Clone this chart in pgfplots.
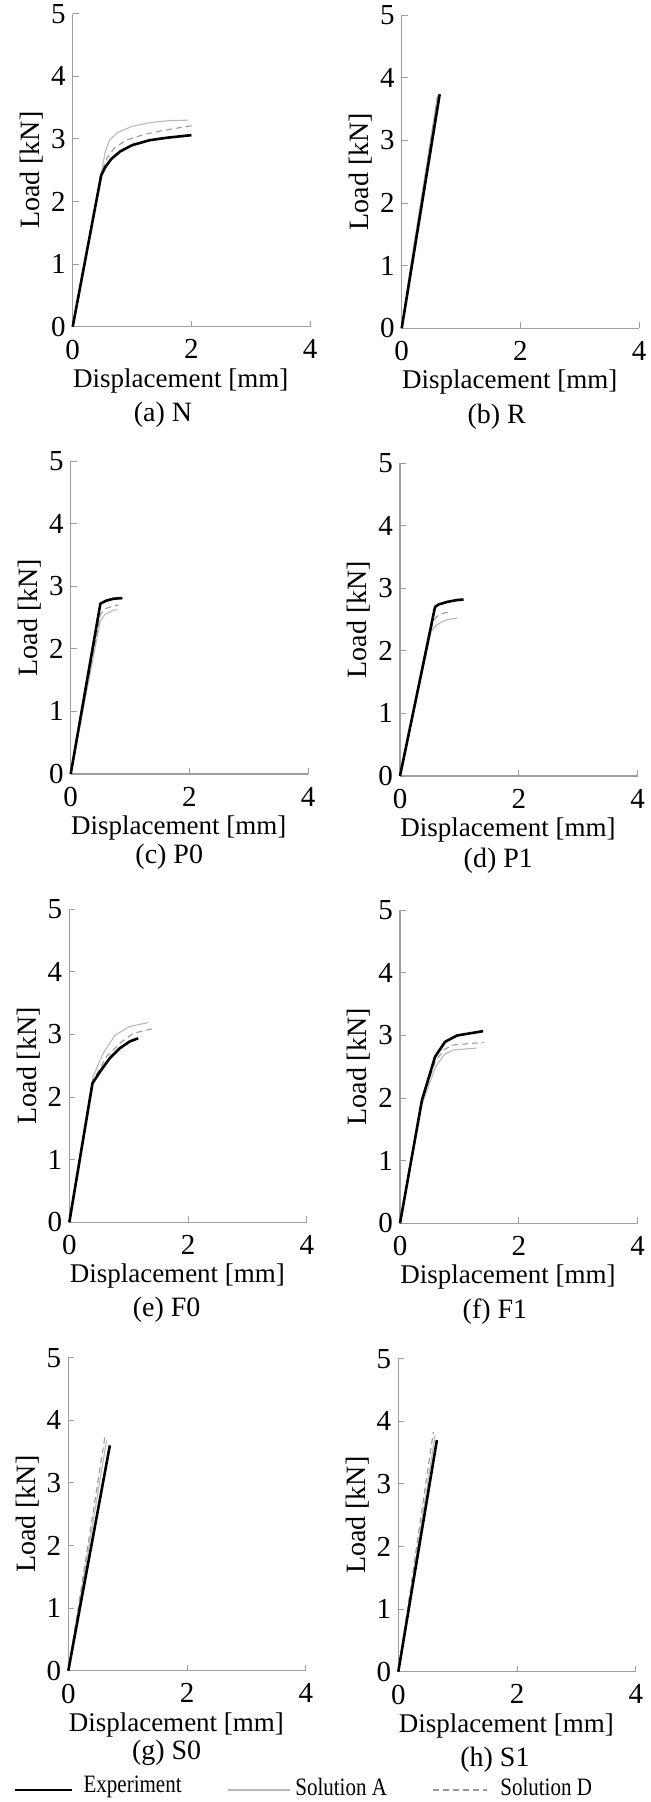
\documentclass[border=0pt]{standalone}
\usepackage{pgfplots}
\pgfplotsset{compat=1.18}
\usepackage{fontspec}
\setmainfont{Liberation Serif}
\newfontfamily\tnr{Liberation Serif}

\pgfplotsset{
  panel/.style={
    anchor=south west,
    scale only axis,
    width=118.75pt, height=156.5pt,
    xmin=0, xmax=4, ymin=0, ymax=5,
    xtick={0,2,4}, ytick={0,1,2,3,4,5},
    axis lines=left,
    axis line style={gray!75, line width=0.6pt, -},
    tick style={gray!75, line width=0.5pt},
    tick align=inside,
    major tick length=3pt,
    /pgf/number format/assume math mode=true,
    ticklabel style={font=\tnr\fontsize{14.5}{14.5}\selectfont},
    xticklabel style={yshift=-3pt},
    xlabel={Displacement [mm]},
    ylabel={Load [kN]},
    xlabel style={font=\tnr\fontsize{13.5}{13.5}\selectfont, at={(axis description cs:0.455,-0.1725)}, anchor=center},
    ylabel style={font=\tnr\fontsize{14}{14}\selectfont, at={(axis description cs:-0.1726,0.5)}, anchor=center},
    clip=false,
  },
}
\tikzset{
  expt/.style={black, line width=1.3pt},
  solA/.style={gray!55, line width=0.55pt},
  solD/.style={gray!80, line width=0.55pt, dash pattern=on 3pt off 2pt},
  subcap/.style={font=\tnr\fontsize{14}{14}\selectfont, anchor=center},
  legtext/.style={anchor=west, inner sep=0pt, font=\tnr\fontsize{12.5}{12.5}\selectfont, xscale=0.84, transform shape},
}

\begin{document}
\begin{tikzpicture}
\useasboundingbox (0pt,0pt) rectangle (325.5pt,-901pt);

% (a) N
\begin{axis}[panel, at={(36.35pt,-163.35pt)}]
  \addplot[solA] coordinates {(0,0) (0.5,2.55) (0.55,2.8) (0.62,2.98) (0.75,3.1) (1.0,3.2) (1.3,3.26) (1.6,3.29) (1.95,3.3)};
  \addplot[solD] coordinates {(0,0) (0.5,2.5) (0.58,2.7) (0.7,2.85) (0.9,2.98) (1.2,3.07) (1.5,3.13) (1.8,3.18) (2.0,3.21)};
  \addplot[expt] coordinates {(0,0) (0.48,2.42) (0.55,2.55) (0.65,2.68) (0.8,2.8) (1.0,2.9) (1.3,2.98) (1.6,3.02) (2.0,3.06)};
  \node[subcap] at (axis description cs:0.38,-0.282) {(a) N};
\end{axis}

% (b) R
\begin{axis}[panel, at={(200.85pt,-164.15pt)}]
  \addplot[solA] coordinates {(0,0) (0.15,1.0) (0.6,3.7)};
  \addplot[solD] coordinates {(0,0) (0.6,3.68) (0.63,3.76)};
  \addplot[expt] coordinates {(0,0) (0.64,3.74)};
  \node[subcap] at (axis description cs:0.40,-0.282) {(b) R};
\end{axis}

% (c) P0
\begin{axis}[panel, at={(35.35pt,-387pt)}]
  \addplot[solA] coordinates {(0,0) (0.5,2.45) (0.58,2.55) (0.68,2.6) (0.78,2.63)};
  \addplot[solD] coordinates {(0,0) (0.5,2.55) (0.58,2.64) (0.7,2.68) (0.8,2.7)};
  \addplot[expt] coordinates {(0,0) (0.5,2.72) (0.6,2.77) (0.72,2.8) (0.87,2.81)};
  \node[subcap] at (axis description cs:0.415,-0.265) {(c) P0};
\end{axis}

% (d) P1
\begin{axis}[panel, at={(200pt,-388pt)}]
  \addplot[solA] coordinates {(0,0) (0.52,2.3) (0.6,2.4) (0.7,2.46) (0.8,2.5) (0.96,2.52)};
  \addplot[solD] coordinates {(0,0) (0.55,2.45) (0.62,2.55) (0.72,2.6) (0.85,2.62)};
  \addplot[expt] coordinates {(0,0) (0.59,2.7) (0.65,2.74) (0.79,2.78) (0.95,2.81) (1.07,2.82)};
  \node[subcap] at (axis description cs:0.414,-0.271) {(d) P1};
\end{axis}

% (e) F0
\begin{axis}[panel, at={(34.65pt,-611.15pt)}]
  \addplot[solA] coordinates {(0,0) (0.4,2.33) (0.57,2.7) (0.77,2.99) (1.02,3.13) (1.33,3.19)};
  \addplot[solD] coordinates {(0,0) (0.4,2.27) (0.63,2.65) (0.85,2.86) (1.08,3.02) (1.39,3.09)};
  \addplot[expt] coordinates {(0,0) (0.39,2.22) (0.52,2.41) (0.68,2.62) (0.85,2.78) (1.02,2.89) (1.16,2.94)};
  \node[subcap] at (axis description cs:0.41,-0.28) {(e) F0};
\end{axis}

% (f) F1
\begin{axis}[panel, at={(200pt,-611.65pt)}]
  \addplot[solA] coordinates {(0,0) (0.37,1.9) (0.6,2.5) (0.75,2.7) (0.9,2.77) (1.3,2.8)};
  \addplot[solD] coordinates {(0,0) (0.37,1.95) (0.6,2.6) (0.75,2.78) (0.9,2.85) (1.41,2.89)};
  \addplot[expt] coordinates {(0,0) (0.37,1.97) (0.59,2.66) (0.76,2.9) (0.96,3.0) (1.4,3.07)};
  \node[subcap] at (axis description cs:0.40,-0.282) {(f) F1};
\end{axis}

% (g) S0
\begin{axis}[panel, at={(34.15pt,-835.35pt)}]
  \addplot[solA] coordinates {(0,0) (0.645,3.68)};
  \addplot[solD] coordinates {(0,0) (0.62,3.76)};
  \addplot[expt] coordinates {(0,0) (0.7,3.6)};
  \node[subcap] at (axis description cs:0.414,-0.262) {(g) S0};
\end{axis}

% (h) S1
\begin{axis}[panel, at={(199.15pt,-835.85pt)}]
  \addplot[solA] coordinates {(0,0) (0.62,3.78)};
  \addplot[solD] coordinates {(0,0) (0.59,3.83)};
  \addplot[expt] coordinates {(0,0) (0.65,3.7)};
  \node[subcap] at (axis description cs:0.407,-0.282) {(h) S1};
\end{axis}

% legend
\draw[expt] (7.5pt,-895pt) -- (35.85pt,-895pt);
\node[legtext] at (41.65pt,-893.5pt) {Experiment};
\draw[solA] (114.15pt,-895pt) -- (145pt,-895pt);
\node[legtext] at (147.5pt,-893.5pt) {Solution A};
\draw[solD] (216.5pt,-895pt) -- (243.35pt,-895pt);
\node[legtext] at (250pt,-893.5pt) {Solution D};
\end{tikzpicture}
\end{document}
